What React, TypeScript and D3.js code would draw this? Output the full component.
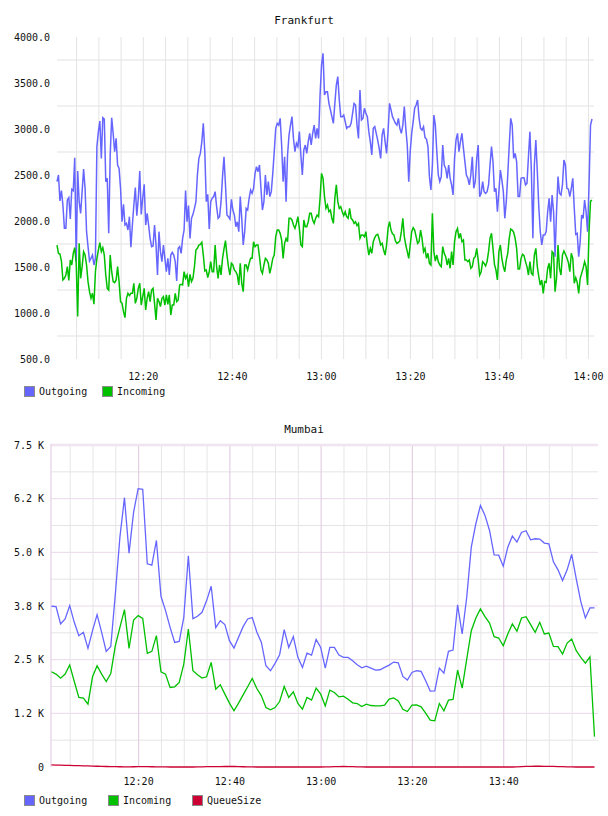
import React from "react";
import * as d3 from "d3";

const FONT = "'DejaVu Sans Mono', monospace";
const OUT_COLOR = "#6666ff";
const IN_COLOR = "#00c000";
const QUEUE_COLOR = "#cc0033";

const at = (h: number, m: number, s = 0) => new Date(2000, 0, 1, h, m, s);

// Frankfurt: samples spread evenly between first and last timestamp
const frankfurtStart = at(12, 0, 36);
const frankfurtEnd = at(14, 0, 48);

const frankfurtOutgoing = [
  2428, 2500, 2218, 2330, 2174, 1920, 1920, 2228, 2254, 2021,
  2344, 2330, 2688, 1558, 2543, 2210, 2083, 2319, 2565, 2355,
  1884, 1721, 1565, 1594, 1630, 1522, 1594, 2808, 2971, 3087,
  2681, 3123, 3108, 2428, 2464, 1866, 2717, 3123, 2953, 2754,
  2898, 2609, 2572, 2355, 1992, 2181, 1956, 1974, 1902, 2047,
  1714, 1956, 2174, 2363, 2058, 2247, 2543, 2072, 2247, 2399,
  1956, 2083, 1956, 1811, 1721, 1728, 1956, 1739, 1413, 1884,
  1667, 1558, 1739, 1594, 1449, 1594, 1413, 1630, 1659, 1630,
  1558, 1348, 1703, 1721, 1648, 1811, 1902, 2330, 1992, 2167,
  1811, 2029, 2072, 2137, 2210, 2500, 2681, 2735, 2862, 3061,
  2754, 2210, 2290, 1913, 2210, 2247, 2265, 2319, 2156, 2029,
  2047, 2210, 2482, 2699, 2392, 2065, 2047, 2021, 2236, 2119,
  2065, 1938, 1992, 1884,
  2265, 2029, 1739, 1884, 2137, 2119, 2247, 2337, 2301, 2355,
  2518, 2591, 2536, 2609, 2355, 2119, 2210, 2500, 2283, 2428,
  2265, 2319, 2518, 2754, 3007, 3061, 3043, 3116, 2826, 2428,
  2699, 2210, 2717, 2935, 3043, 3134, 2898, 2754, 2844, 2808,
  2971, 2717, 2500, 2772, 2826, 2735, 2862, 2953, 2826, 2953,
  3043, 2898, 3007, 2898, 3370, 3696, 3822, 3370, 3406, 3406,
  3279, 3207, 3134, 3061, 3279, 3478, 3569, 3315, 3134, 3134,
  3152, 3080, 3007, 3025, 3025, 3061, 3170, 3279, 3261, 3043,
  2898, 3424, 3098, 3116, 3225, 3170, 3134, 2971, 2862, 2717,
  3007, 3025, 2953, 2880, 2790, 2681, 2935, 3007, 2862, 2735,
  2971, 3279, 3207, 3134, 3098, 3061, 3043, 3116, 3007, 2953,
  3043, 3243, 3007, 2826, 2428, 2754, 2953, 3080, 3225, 3261,
  3315, 3116,
  3007, 2989, 3025, 2906, 2891, 2808, 2482, 2337, 2609, 3152,
  3043, 2754, 2500, 2428, 2482, 2826, 2609, 2572, 2464, 2609,
  2464, 2392, 2283, 2681, 2880, 2953, 2754, 2862, 2953, 2790,
  2645, 2500, 2464, 2392, 2500, 2699, 2355, 2428, 2681, 2826,
  2265, 2301, 2428, 2319, 2301, 2319, 2392, 2609, 2808, 2645,
  2319, 2355, 2101, 2319, 2554, 2446, 2319, 2029, 2210, 2500,
  2826, 3116, 3043, 2681, 2735, 2645, 2265, 2265, 2464, 2471,
  2471, 2392, 2409, 2699, 2971, 2536, 1812, 2609, 2880, 2536,
  2156, 1884, 1739, 1848, 1848, 1884, 2101, 2247, 1993, 2283,
  2101, 1612, 2101, 2482, 2301, 2283, 2392, 2663, 2609, 2355,
  2348, 2265, 2355, 2464, 2138, 1855, 1866, 1612, 1775, 2065,
  2029, 2228, 2101, 1884, 2392, 3043, 3109,
];

const frankfurtIncoming = [
  1739, 1648, 1641, 1565, 1359, 1377, 1413, 1504, 1355, 1576,
  1522, 1648, 1710, 1540, 961, 1757, 1377, 1504, 1667, 1630,
  1522, 1341, 1232, 1160, 1214, 1095, 1449, 1594, 1685, 1764,
  1667, 1710, 1630, 1413, 1268, 1250, 1630, 1449, 1341, 1330,
  1359, 1504, 1341, 1124, 1105, 1015, 949, 1160, 1214, 1189,
  1214, 1214, 1323, 1105, 1160, 1268, 1323, 1087, 1178, 1268,
  1033, 1160, 1232, 1124, 1250, 1268, 1105, 924, 1160, 1124,
  1069, 1160, 1178, 1087, 1196, 1095, 1196, 978, 1087, 1087,
  1214, 1124, 1142, 1305, 1312, 1305, 1449, 1377, 1413, 1286,
  1420, 1341, 1377, 1504, 1685, 1703, 1739, 1746, 1768, 1630,
  1457, 1468, 1384, 1449, 1558, 1449, 1449, 1739, 1504, 1377,
  1522, 1413, 1594, 1696, 1786, 1630, 1504, 1413, 1540, 1522,
  1468, 1449, 1413, 1305,
  1540, 1323, 1232, 1522, 1522, 1468, 1540, 1594, 1594, 1775,
  1721, 1739, 1739, 1612, 1468, 1431, 1522, 1594, 1576, 1540,
  1431, 1504, 1594, 1630, 1830, 1902, 1902, 1866, 1793, 1594,
  1757, 1811, 1775, 2029, 2029, 2011, 1956, 1920, 1974, 2047,
  1920, 1739, 1721, 2011, 1938, 1938, 1992, 2083, 2083, 2011,
  1974, 2029, 2065, 2047, 2247, 2518, 2464, 2265, 2138, 2174,
  2101, 2119, 2029, 1974, 2247, 2392, 2210, 2138, 2156, 2101,
  2058, 2101, 2047, 2029, 2138, 2029, 2011, 1974, 1992, 1949,
  1974, 1811, 1848, 1848, 1830, 1884, 1739, 1630, 1703, 1649,
  1775, 1819, 1848, 1855, 1804, 1739, 1757, 1685, 1630, 1739,
  1920, 1993, 1902, 1862, 1848, 1783, 1757, 1768, 1783, 1884,
  2029, 1830, 1739, 1667, 1594, 1739, 1884, 1928, 1902, 1830,
  1757, 1775,
  1902, 1811, 1667, 1703, 1594, 1649, 1540, 1522, 2083, 1667,
  1565, 1630, 1558, 1522, 1504, 1721, 1649, 1612, 1522, 1594,
  1486, 1667, 1522, 1775, 1884, 1920, 1811, 1866, 1775, 1793,
  1576, 1576, 1558, 1576, 1486, 1504, 1594, 1612, 1703, 1576,
  1413, 1449, 1558, 1540, 1511, 1558, 1667, 1811, 1866, 1703,
  1529, 1468, 1359, 1667, 1739, 1594, 1504, 1449, 1576, 1649,
  1811, 1913, 1902, 1877, 1811, 1703, 1478, 1478, 1594, 1638,
  1623, 1558, 1504, 1413, 1558, 1431, 1413, 1630, 1703, 1504,
  1395, 1304, 1359, 1214, 1341, 1333, 1486, 1540, 1377, 1667,
  1649, 1232, 1377, 1739, 1486, 1413, 1630, 1674, 1638, 1601,
  1551, 1449, 1649, 1594, 1323, 1384, 1333, 1214, 1377, 1431,
  1486, 1558, 1504, 1304, 1884, 2217, 2228,
];

const frankfurtTicks = [500, 1000, 1500, 2000, 2500, 3000, 3500, 4000];
const frankfurtGrid = [750, 1250, 1750, 2250, 2750, 3250, 3750];

// Mumbai: one sample per minute
const mumbaiFirst = at(12, 0, 54);

const mumbaiOutgoing = [
  3744, 3736, 3331, 3448, 3759, 3370, 3059, 3137, 2763, 3175,
  3549, 3137, 2693, 2810, 4032, 5355, 6273, 4981, 5938, 6483,
  6468, 4732, 4701, 5277, 3977, 3642, 3253, 2903, 2926, 3487,
  4919, 3456, 3510, 3604, 3876, 4211, 3245, 3409, 3316, 2942,
  2771, 3020, 3269, 3448, 3479, 3144, 2903, 2358, 2242, 2413,
  2615, 3199, 2786, 3035, 2553, 2319, 2654, 2607, 2973, 2786,
  2304, 2786, 2786, 2607, 2553, 2553, 2475, 2382, 2312, 2350,
  2304, 2257, 2265, 2319, 2374, 2444, 2428, 2109, 2024, 2203,
  2242, 2226, 2008, 1767, 1775, 2304, 2187, 2693, 2724, 3775,
  3098, 3954, 5121, 5666, 6094, 5861, 5510, 4942, 4934, 4678,
  5121, 5378, 5238, 5464, 5503, 5292, 5316, 5308, 5215, 5199,
  4779, 4592, 4343, 4592, 4950, 4382, 3853, 3471, 3705, 3705,
];

const mumbaiIncoming = [
  2218, 2164, 2070, 2164, 2374, 1992, 1619, 1603, 1463, 2101,
  2358, 2164, 1992, 2179, 2825, 3253, 3666, 2763, 3424, 3526,
  3463, 2646, 2693, 3059, 2218, 2164, 1852, 1868, 1969, 2397,
  3214, 2242, 2148, 2070, 2101, 2436, 1813, 1915, 1697, 1487,
  1308, 1487, 1681, 1868, 2062, 1829, 1658, 1385, 1331, 1385,
  1525, 1876, 1619, 1751, 1479, 1346, 1619, 1557, 1837, 1697,
  1424, 1790, 1736, 1634, 1650, 1580, 1494, 1479, 1409, 1463,
  1432, 1424, 1424, 1440, 1580, 1611, 1541, 1346, 1292, 1440,
  1448, 1401, 1253, 1090, 1074, 1479, 1308, 1557, 1572, 2257,
  1837, 2514, 3175, 3471, 3681, 3502, 3354, 3035, 3004, 2825,
  3098, 3331, 3160, 3471, 3502, 3316, 3137, 3370, 3098, 3121,
  2810, 2802, 2631, 2887, 2981, 2708, 2553, 2420, 2568, 708,
];

const mumbaiQueueSize = [
  48, 45, 42, 39, 36, 33, 30, 27, 24, 21,
  18, 15, 12, 10, 8, 6, 5, 4, 6, 9,
  10, 8, 6, 4, 2, 1, 0, 0, 0, 0,
  0, 0, 2, 5, 8, 10, 11, 10, 12, 14,
  12, 9, 6, 3, 1, 0, 0, 0, 0, 0,
  0, 0, 0, 0, 0, 0, 0, 0, 0, 0,
  2, 5, 8, 11, 12, 10, 7, 4, 2, 0,
  0, 0, 0, 0, 0, 0, 0, 0, 0, 0,
  0, 0, 0, 0, 0, 0, 0, 0, 0, 0,
  0, 0, 0, 0, 0, 0, 0, 0, 0, 0,
  0, 0, 4, 9, 13, 16, 18, 17, 16, 15,
  13, 10, 7, 4, 2, 0, 0, 0, 0, 0,
];

const mumbaiTicks = [0, 1250, 2500, 3750, 5000, 6250, 7500];
const mumbaiTickLabels = ["0", "1.2 K", "2.5 K", "3.8 K", "5.0 K", "6.2 K", "7.5 K"];
const mumbaiGrid = [625, 1250, 1875, 2500, 3125, 3750, 4375, 5000, 5625, 6250, 6875];

const timeFmt = d3.timeFormat("%H:%M");

type Pt = { t: Date; v: number };

const Legend = ({ items, y }: { items: { label: string; color: string; x: number }[]; y: number }) => (
  <g>
    {items.map((it) => (
      <g key={it.label}>
        <rect x={it.x + 0.5} y={y + 0.5} width={10} height={10} fill={it.color} stroke="#8a8a8a" />
        <text x={it.x + 15} y={y + 9} fontFamily={FONT} fontSize={10} fill="#111">
          {it.label}
        </text>
      </g>
    ))}
  </g>
);

const Frankfurt = () => {
  const x = d3.scaleTime().domain([frankfurtStart, frankfurtEnd]).range([57, 592]);
  const y = d3.scaleLinear().domain([500, 4000]).range([359, 37]);
  const span = frankfurtEnd.getTime() - frankfurtStart.getTime();
  const toPts = (vals: number[]): Pt[] =>
    vals.map((v, i) => ({ t: new Date(frankfurtStart.getTime() + (i * span) / (vals.length - 1)), v }));
  const line = d3
    .line<Pt>()
    .x((d) => x(d.t))
    .y((d) => y(d.v));
  const minorTicks = x.ticks(d3.timeMinute.every(5)!);
  const labelTicks = x.ticks(d3.timeMinute.every(20)!);

  return (
    <g>
      <text x={304} y={24} textAnchor="middle" fontFamily={FONT} fontSize={11} fill="#111">
        Frankfurt
      </text>
      {frankfurtGrid.map((v) => (
        <line key={v} x1={57} x2={594} y1={y(v)} y2={y(v)} stroke="#f0f0f0" strokeWidth={2} />
      ))}
      {minorTicks.map((t) => (
        <line key={+t} x1={x(t)} x2={x(t)} y1={37} y2={359} stroke="#e4e4e4" strokeWidth={1} />
      ))}
      {frankfurtTicks.map((v) => (
        <text key={v} x={50} y={y(v) + 3.5} textAnchor="end" fontFamily={FONT} fontSize={10} fill="#111">
          {d3.format(".1f")(v)}
        </text>
      ))}
      {labelTicks.map((t) => (
        <text key={+t} x={x(t)} y={380} textAnchor="middle" fontFamily={FONT} fontSize={10} fill="#111">
          {timeFmt(t)}
        </text>
      ))}
      <path d={line(toPts(frankfurtOutgoing)) ?? ""} fill="none" stroke={OUT_COLOR} strokeWidth={1.5} />
      <path d={line(toPts(frankfurtIncoming)) ?? ""} fill="none" stroke={IN_COLOR} strokeWidth={1.5} />
      <Legend
        y={386}
        items={[
          { label: "Outgoing", color: OUT_COLOR, x: 24 },
          { label: "Incoming", color: IN_COLOR, x: 102 },
        ]}
      />
    </g>
  );
};

const Mumbai = () => {
  const x = d3.scaleTime().domain([at(12, 0, 48), at(14, 0, 40)]).range([51, 598]);
  const y = d3.scaleLinear().domain([0, 7500]).range([767, 445]);
  const toPts = (vals: number[]): Pt[] =>
    vals.map((v, i) => ({ t: d3.timeMinute.offset(mumbaiFirst, i), v }));
  const line = d3
    .line<Pt>()
    .x((d) => x(d.t))
    .y((d) => y(d.v));
  const lastX = x(d3.timeMinute.offset(mumbaiFirst, mumbaiOutgoing.length - 1));
  const minorTicks = x.ticks(d3.timeMinute.every(5)!).filter((t) => x(t) <= lastX);
  const isMajor = (t: Date) => t.getMinutes() % 20 === 0;
  const labelTicks = minorTicks.filter((t) => isMajor(t) && x(t) + 16 <= 608);

  return (
    <g>
      <text x={304} y={433} textAnchor="middle" fontFamily={FONT} fontSize={11} fill="#111">
        Mumbai
      </text>
      {mumbaiGrid.map((v) => (
        <line
          key={v}
          x1={51}
          x2={598}
          y1={y(v)}
          y2={y(v)}
          stroke={v % 1250 === 0 ? "#ead8ea" : "#e4e4e4"}
          strokeWidth={1}
        />
      ))}
      {minorTicks
        .filter((t) => !isMajor(t))
        .map((t) => (
          <line key={+t} x1={x(t)} x2={x(t)} y1={445} y2={767} stroke="#e6e6e6" strokeWidth={1} />
        ))}
      {minorTicks.filter(isMajor).map((t) => (
        <line key={+t} x1={x(t)} x2={x(t)} y1={445} y2={767} stroke="#e2cfe2" strokeWidth={1.2} />
      ))}
      <line x1={51} x2={598} y1={445} y2={445} stroke="#f0e4f0" strokeWidth={2.5} />
      <line x1={51} x2={51} y1={444} y2={767} stroke="#e2cfe2" strokeWidth={1.2} />
      {mumbaiTicks.map((v, i) => (
        <text key={v} x={44} y={y(v) + 3.5} textAnchor="end" fontFamily={FONT} fontSize={10} fill="#111">
          {mumbaiTickLabels[i]}
        </text>
      ))}
      {labelTicks.map((t) => (
        <text key={+t} x={x(t)} y={785} textAnchor="middle" fontFamily={FONT} fontSize={10} fill="#111">
          {timeFmt(t)}
        </text>
      ))}
      <path d={line(toPts(mumbaiOutgoing)) ?? ""} fill="none" stroke={OUT_COLOR} strokeWidth={1.3} />
      <path d={line(toPts(mumbaiIncoming)) ?? ""} fill="none" stroke={IN_COLOR} strokeWidth={1.3} />
      <path d={line(toPts(mumbaiQueueSize)) ?? ""} fill="none" stroke={QUEUE_COLOR} strokeWidth={1.3} />
      <Legend
        y={795}
        items={[
          { label: "Outgoing", color: OUT_COLOR, x: 24 },
          { label: "Incoming", color: IN_COLOR, x: 108 },
          { label: "QueueSize", color: QUEUE_COLOR, x: 192 },
        ]}
      />
    </g>
  );
};

export default function App() {
  return (
    <svg
      width={608}
      height={816}
      viewBox="0 0 608 816"
      style={{ position: "absolute", left: 0, top: 0, background: "#fff" }}
    >
      <Frankfurt />
      <Mumbai />
    </svg>
  );
}
